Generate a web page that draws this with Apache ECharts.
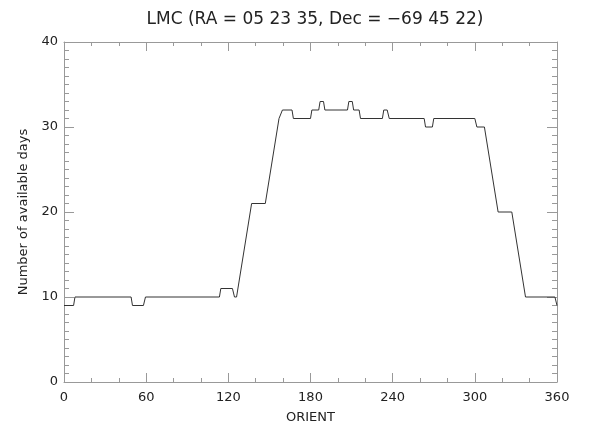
<!DOCTYPE html>
<html>
<head>
<meta charset="utf-8">
<script src="https://cdn.jsdelivr.net/npm/echarts@6/dist/echarts.min.js"></script>
<style>
html,body{margin:0;padding:0;background:#fff;}
#chart{width:600px;height:439px;}
</style>
</head>
<body>
<div id="chart"></div>
<script>
// Breakpoints of the curve (ORIENT in degrees, days)
var orient = [0, 7, 8, 49, 50, 58, 59.5, 113.5, 114.5, 123, 124.5, 126, 137, 147, 157, 158, 159.5, 166.5, 167.5, 180, 181, 186, 187, 189.5, 190.5, 207, 208, 210.5, 211.5, 215.5, 216.5, 232.5, 233.5, 236, 237.5, 263, 264, 269, 270, 300, 301.5, 307, 317, 327, 337, 358.5, 360];
var days   = [9, 9, 10, 10, 9, 9, 10, 10, 11, 11, 10, 10, 21, 21, 31, 31, 32, 32, 31, 31, 32, 32, 33, 33, 32, 32, 33, 33, 32, 32, 31, 31, 32, 32, 31, 31, 30, 30, 31, 31, 30, 30, 20, 20, 10, 10, 9];
var xTicks = [0, 60, 120, 180, 240, 300, 360];
var yTicks = [0, 10, 20, 30, 40];
var titleText = 'LMC (RA = 05 23 35, Dec = \u221269 45 22)';

var pts = orient.map(function (x, i) { return [x, days[i]]; });
var FONT = 'DejaVu Sans';
var axisColor = '#999';
var textColor = '#222';

function xAx(pos, showLabel) {
  return {
    type: 'value', position: pos, min: xTicks[0], max: xTicks[xTicks.length - 1],
    interval: xTicks[1] - xTicks[0],
    name: showLabel ? 'ORIENT' : '', nameLocation: 'middle', nameGap: 29,
    nameTextStyle: { fontFamily: FONT, fontSize: 13, color: textColor },
    axisLine: { show: true, onZero: false, lineStyle: { color: axisColor, width: 1 } },
    axisTick: { show: true, inside: true, length: 9, lineStyle: { color: axisColor } },
    minorTick: { show: true, splitNumber: 3, length: 4, lineStyle: { color: axisColor } },
    axisLabel: { show: showLabel, fontFamily: FONT, fontSize: 13, color: textColor, margin: 9 },
    splitLine: { show: false }, minorSplitLine: { show: false }
  };
}
function yAx(pos, showLabel) {
  return {
    type: 'value', position: pos, min: yTicks[0], max: yTicks[yTicks.length - 1],
    interval: yTicks[1] - yTicks[0],
    name: showLabel ? 'Number of available days' : '', nameLocation: 'middle', nameGap: 32,
    nameTextStyle: { fontFamily: FONT, fontSize: 13, color: textColor },
    axisLine: { show: true, onZero: false, lineStyle: { color: axisColor, width: 1 } },
    axisTick: { show: true, inside: true, length: 10, lineStyle: { color: axisColor } },
    minorTick: { show: true, splitNumber: 10, length: 5, lineStyle: { color: axisColor } },
    axisLabel: { show: showLabel, fontFamily: FONT, fontSize: 13, color: textColor, margin: 6 },
    splitLine: { show: false }, minorSplitLine: { show: false }
  };
}

var chart = echarts.init(document.getElementById('chart'), null, { renderer: 'canvas' });
chart.setOption({
  animation: false,
  backgroundColor: '#fff',
  title: {
    text: titleText, left: 310, top: 6, textAlign: 'center',
    textStyle: { fontFamily: FONT, fontSize: 17, fontWeight: 'normal', color: textColor }
  },
  grid: { left: 64, right: 43, top: 42, bottom: 57, containLabel: false },
  xAxis: [xAx('bottom', true), xAx('top', false)],
  yAxis: [yAx('left', true), yAx('right', false)],
  series: [{
    type: 'line', data: pts, showSymbol: false, symbol: 'none',
    xAxisIndex: 0, yAxisIndex: 0,
    lineStyle: { color: '#333', width: 1 }
  }]
});
</script>
</body>
</html>
